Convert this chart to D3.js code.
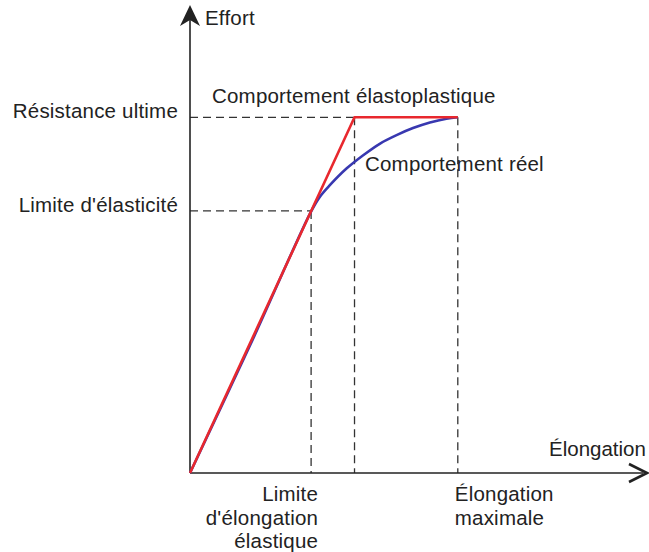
<!DOCTYPE html>
<html>
<head>
<meta charset="utf-8">
<script src="https://cdn.jsdelivr.net/npm/d3@7"></script>
<style>
  body { margin: 0; background: #fff; }
  svg text { font-family: "Liberation Sans", Arial, sans-serif; font-size: 20.5px; letter-spacing: 0.2px; fill: #222; }
</style>
</head>
<body>
<svg id="chart" width="649" height="552"></svg>
<script>
// courbe elastoplastique (idealisee) : elongation, effort
const elastoplastique = [[0, 0], [36, 76], [58.6, 76]];
// courbe reelle
const reel = [
  [0, 0], [13.2, 27.4], [26.4, 55.7], [28.4, 59.0], [30.6, 61.5], [34.3, 65.1],
  [37.9, 67.9], [41.6, 70.4], [45.2, 72.2], [48.8, 73.7], [52.5, 74.9],
  [56.1, 75.7], [58.6, 76.0]
];
// niveaux d'effort
const effortValues = [76, 56];
const effortLabels = ["Résistance ultime", "Limite d'élasticité"];
// elongations reperees (x, effort ou s'arrete le pointille)
const elongValues = [26.5, 36, 58.6];
const elongTops = [56, 76, 76];
const elongLabels = [["Limite", "d'élongation", "élastique"], null, ["Élongation", "maximale"]];

const svg = d3.select("#chart");
const x = d3.scaleLinear().domain([0, 100]).range([190, 647]);
const y = d3.scaleLinear().domain([0, 100]).range([473, 5]);

const dash = "8,5";
// pointilles horizontaux
svg.selectAll(".hdash").data(effortValues).enter().append("line")
  .attr("x1", x(0))
  .attr("x2", (d, i) => i === 0 ? x(elongValues[2]) : x(elongValues[0]))
  .attr("y1", d => y(d)).attr("y2", d => y(d))
  .attr("stroke", "#333").attr("stroke-width", 1.3).attr("stroke-dasharray", dash);
// pointilles verticaux
svg.selectAll(".vdash").data(elongValues).enter().append("line")
  .attr("x1", d => x(d)).attr("x2", d => x(d))
  .attr("y1", (d, i) => y(elongTops[i])).attr("y2", y(0))
  .attr("stroke", "#333").attr("stroke-width", 1.3).attr("stroke-dasharray", dash);

// axes
svg.append("line").attr("x1", x(0)).attr("x2", x(0)).attr("y1", y(0)).attr("y2", y(97))
  .attr("stroke", "#222").attr("stroke-width", 1.6);
svg.append("line").attr("x1", x(0)).attr("x2", x(99.2)).attr("y1", y(0)).attr("y2", y(0))
  .attr("stroke", "#222").attr("stroke-width", 1.6);
// fleche verticale
const tx = x(0), ty = y(100);
svg.append("path")
  .attr("d", `M${tx},${ty} L${tx + 10},${ty + 21} L${tx},${ty + 15} L${tx - 10},${ty + 21} Z`)
  .attr("fill", "#222");
// fleche horizontale
const hx = x(100), hy = y(0);
svg.append("path")
  .attr("d", `M${hx - 18},${hy - 9} L${hx},${hy} L${hx - 18},${hy + 9}`)
  .attr("fill", "none").attr("stroke", "#222").attr("stroke-width", 2.6);

// courbes
const line = d3.line().x(d => x(d[0])).y(d => y(d[1]));
svg.append("path").datum(reel)
  .attr("d", line.curve(d3.curveCatmullRom.alpha(0.5)))
  .attr("fill", "none").attr("stroke", "#3838b0").attr("stroke-width", 2.6);
svg.append("path").datum(elastoplastique)
  .attr("d", d3.line().x(d => x(d[0])).y(d => y(d[1])))
  .attr("fill", "none").attr("stroke", "#e8282e").attr("stroke-width", 2.6)
  .attr("stroke-linejoin", "round");

// textes
svg.append("text").attr("x", 205).attr("y", 25).text("Effort");
svg.append("text").attr("x", 549).attr("y", 456).style("letter-spacing", "0px").text("Élongation");
svg.selectAll(".ylab").data(effortLabels).enter().append("text")
  .attr("x", 178).attr("y", (d, i) => y(effortValues[i]) + 1)
  .attr("text-anchor", "end").text(d => d);
svg.append("text").attr("x", 212).attr("y", 103).text("Comportement élastoplastique");
svg.append("text").attr("x", 365).attr("y", 171).text("Comportement réel");

elongLabels.forEach((lines, i) => {
  if (!lines) return;
  const left = i === 2;
  const t = svg.append("text")
    .attr("text-anchor", left ? "start" : "end");
  lines.forEach((s, k) => {
    t.append("tspan")
      .attr("x", left ? x(elongValues[i]) - 3 : x(elongValues[i]) + 7)
      .attr("y", 501 + k * 23.5)
      .text(s);
  });
});
</script>
</body>
</html>
